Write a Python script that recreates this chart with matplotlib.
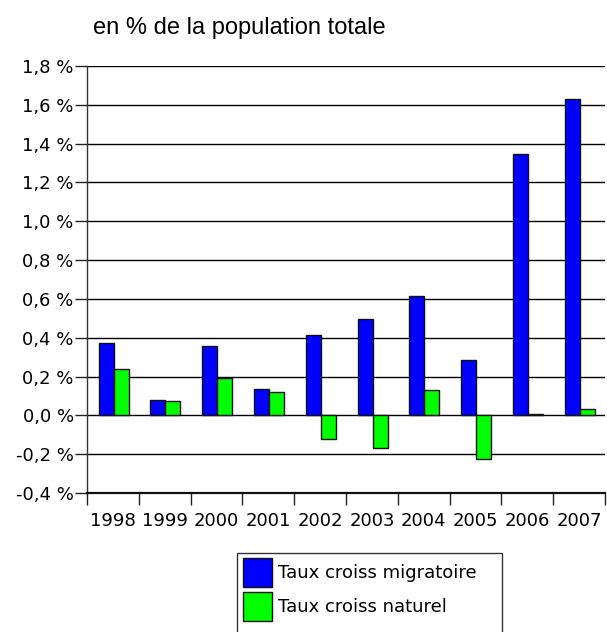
import matplotlib
matplotlib.use('Agg')
import matplotlib.pyplot as plt
from matplotlib import font_manager
import numpy as np

# data (% of total population)
years = ['1998', '1999', '2000', '2001', '2002', '2003', '2004', '2005', '2006', '2007']
migratoire = [0.373, 0.077, 0.357, 0.138, 0.416, 0.496, 0.617, 0.284, 1.349, 1.629]
naturel = [0.241, 0.074, 0.194, 0.120, -0.123, -0.168, 0.132, -0.224, 0.008, 0.035]
y_ticks = [-0.4, -0.2, 0.0, 0.2, 0.4, 0.6, 0.8, 1.0, 1.2, 1.4, 1.6, 1.8]
labels = ['Taux croiss migratoire', 'Taux croiss naturel']

# pick the regular (not narrow) Liberation Sans for the title
title_font = None
for f in font_manager.fontManager.ttflist:
    if f.name == 'Liberation Sans' and 'Narrow' not in f.fname and f.weight in (400, 'normal') and f.style == 'normal':
        title_font = font_manager.FontProperties(fname=f.fname, size=17)
        break
if title_font is None:
    title_font = font_manager.FontProperties(family='sans-serif', size=17)

fig = plt.figure(figsize=(6.07, 6.32), dpi=100)
ax = fig.add_axes([87 / 607, 1 - 493 / 632, 518 / 607, 427 / 632])

x = np.arange(len(years))
w = 0.29
b1 = ax.bar(x - 0.13, migratoire, w, color='#0000ff', edgecolor='#111111', linewidth=1, label=labels[0], zorder=3)
b2 = ax.bar(x + 0.16, naturel, w, color='#00ff00', edgecolor='#111111', linewidth=1, label=labels[1], zorder=3)

ax.set_xlim(-0.5, len(years) - 0.5)
ax.set_ylim(-0.4, 1.8)

# horizontal grid
ax.set_yticks(y_ticks)
ax.set_yticklabels([('%.1f %%' % v).replace('.', ',') for v in y_ticks])
ax.yaxis.grid(True, color='#000000', linewidth=1)
ax.set_axisbelow(True)

# x labels at centers, tick marks at category boundaries
ax.set_xticks(x)
ax.set_xticklabels(years)
ax.set_xticks(np.arange(len(years) + 1) - 0.5, minor=True)
ax.tick_params(axis='x', which='major', length=0, pad=13.5, labelsize=13)
ax.tick_params(axis='x', which='minor', length=8.6, width=1, direction='out', color='#222222')
ax.tick_params(axis='y', length=8.6, width=1, pad=1, labelsize=13, color='#222222')

for s in ['top', 'right']:
    ax.spines[s].set_visible(False)
ax.spines['left'].set_color('#333333')
ax.spines['left'].set_linewidth(1)
ax.spines['bottom'].set_color('#111111')
ax.spines['bottom'].set_linewidth(1.6)

fig.text(93 / 607, 1 - 28 / 632, 'en % de la population totale', fontproperties=title_font,
         va='center', ha='left')

# legend (box runs off the bottom of the figure like the reference)
leg = fig.legend(handles=[b1, b2], labels=labels, loc='upper left',
                 bbox_to_anchor=(243 / 607, 1 - 558 / 632), bbox_transform=fig.transFigure,
                 frameon=False, fontsize=13, borderpad=0, borderaxespad=0,
                 handlelength=1.6, handleheight=2.1, handletextpad=0.35, labelspacing=0.28)
frame = plt.Rectangle((237 / 607, 1 - 680 / 632), 265 / 607, 127 / 632, transform=fig.transFigure,
                      fill=False, edgecolor='#333333', linewidth=1)
fig.add_artist(frame)

fig.savefig('out.png', dpi=100)
